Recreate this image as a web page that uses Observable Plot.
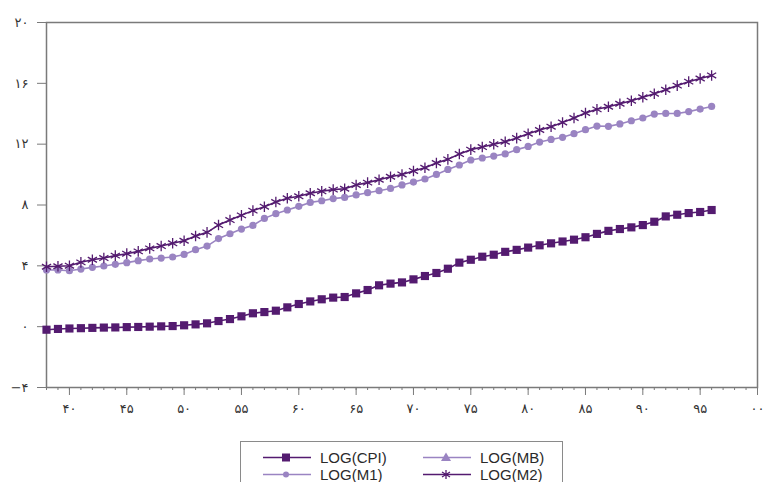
<!DOCTYPE html>
<html>
<head>
<meta charset="utf-8">
<script src="https://cdn.jsdelivr.net/npm/d3@7"></script>
<script src="https://cdn.jsdelivr.net/npm/@observablehq/plot@0.6"></script>
<style>
  body { margin: 0; background: #fff; }
  #wrap { position: relative; width: 763px; height: 482px; overflow: hidden; }
  #legend {
    position: absolute; left: 240px; top: 441px; width: 323px; height: 60px;
    border: 1px solid #8a8a8a; box-sizing: border-box;
    font-family: "Liberation Sans", Arial, sans-serif; font-size: 15px; color: #2a2a2a;
  }
  .item { position: absolute; display: flex; align-items: center; height: 17px; }
  .item svg { margin-right: 8px; }
</style>
</head>
<body>
<div id="wrap">
  <div id="chart"></div>
  <div id="legend"></div>
</div>
<script>
const years = [38,39,40,41,42,43,44,45,46,47,48,49,50,51,52,53,54,55,56,57,58,59,60,61,62,63,64,65,66,67,68,69,70,71,72,73,74,75,76,77,78,79,80,81,82,83,84,85,86,87,88,89,90,91,92,93,94,95,96];
const logCPI = [-0.2,-0.15,-0.12,-0.1,-0.08,-0.06,-0.05,-0.03,-0.02,0.0,0.02,0.04,0.09,0.15,0.22,0.37,0.5,0.68,0.88,0.96,1.05,1.27,1.49,1.66,1.8,1.91,1.95,2.19,2.41,2.72,2.83,2.91,3.11,3.33,3.53,3.81,4.21,4.4,4.6,4.73,4.92,5.05,5.2,5.35,5.48,5.6,5.72,5.88,6.1,6.3,6.42,6.53,6.68,6.9,7.25,7.36,7.47,7.54,7.67];
const logM1 = [3.73,3.73,3.68,3.79,3.9,3.99,4.1,4.21,4.34,4.45,4.51,4.58,4.75,5.06,5.3,5.79,6.11,6.42,6.66,7.12,7.43,7.67,7.91,8.17,8.28,8.42,8.5,8.66,8.81,8.94,9.09,9.32,9.51,9.71,10.01,10.34,10.63,10.96,11.09,11.22,11.36,11.64,11.85,12.14,12.31,12.45,12.69,12.95,13.19,13.17,13.33,13.54,13.72,13.98,14.02,14.02,14.14,14.31,14.48];
const logM2 = [3.94,3.97,4.01,4.23,4.4,4.51,4.67,4.8,4.95,5.15,5.3,5.48,5.65,5.96,6.2,6.68,7.01,7.32,7.63,7.89,8.2,8.44,8.57,8.77,8.9,9.01,9.07,9.32,9.47,9.66,9.86,10.01,10.24,10.45,10.76,11.0,11.35,11.64,11.81,11.99,12.16,12.4,12.69,12.93,13.15,13.43,13.72,14.05,14.29,14.46,14.66,14.86,15.08,15.32,15.58,15.85,16.11,16.32,16.52];
const xMajorTicks = [40,45,50,55,60,65,70,75,80,85,90,95,100];
const xMinorTicks = [38,39,40,41,42,43,44,45,46,47,48,49,50,51,52,53,54,55,56,57,58,59,60,61,62,63,64,65,66,67,68,69,70,71,72,73,74,75,76,77,78,79,80,81,82,83,84,85,86,87,88,89,90,91,92,93,94,95,96,97,98,99,100];
const yTicks = [-4,0,4,8,12,16,20];
const seriesNames = ["LOG(CPI)","LOG(MB)","LOG(M1)","LOG(M2)"];

const dark = "#541b70";
const light = "#9a84c2";

const faDigits = "۰۱۲۳۴۵۶۷۸۹";
const fa = n => String(n).replace(/\d/g, d => faDigits[+d]);
const fmtX = v => fa(String(v % 100).padStart(2, "0"));
const fmtY = v => v < 0 ? "\u2212" + fa(-v) : fa(v);

const rows = k => years.map((yr, i) => ({year: yr, v: k[i]}));
const cpi = rows(logCPI), m1 = rows(logM1), m2 = rows(logM2);

const chart = Plot.plot({
  width: 763, height: 430,
  marginLeft: 46, marginRight: 6, marginTop: 22, marginBottom: 43,
  style: {fontFamily: "DejaVu Sans", fontSize: "12px", color: "#333"},
  x: {domain: [38, 100]},
  y: {domain: [-4, 20]},
  marks: [
    Plot.frame({stroke: "#7a7a7a", strokeWidth: 1.5}),
    Plot.axisX({ticks: xMinorTicks, tickSize: 3, tickFormat: () => "", stroke: "#7a7a7a", label: null}),
    Plot.axisX({ticks: xMajorTicks, tickSize: 8, tickPadding: 8, tickFormat: fmtX, stroke: "#7a7a7a", label: null, fontSize: 13}),
    Plot.axisY({ticks: yTicks, tickSize: 9, tickPadding: 9, tickFormat: fmtY, stroke: "#7a7a7a", label: null, fontSize: 13}),
    Plot.line(m1, {x: "year", y: "v", stroke: light, strokeWidth: 1.6}),
    Plot.dot(m1, {x: "year", y: "v", fill: light, r: 3.6, symbol: "circle"}),
    Plot.line(m2, {x: "year", y: "v", stroke: dark, strokeWidth: 1.6}),
    Plot.dot(m2, {x: "year", y: "v", stroke: dark, r: 5, symbol: "asterisk", strokeWidth: 1.3}),
    Plot.line(cpi, {x: "year", y: "v", stroke: dark, strokeWidth: 1.6}),
    Plot.dot(cpi, {x: "year", y: "v", fill: dark, r: 4.6, symbol: "square"})
  ]
});
document.getElementById("chart").appendChild(chart);

// Legend
const legend = document.getElementById("legend");
const items = [
  {name: seriesNames[0], color: dark, shape: "square", left: 21, top: 7},
  {name: seriesNames[1], color: light, shape: "triangle", left: 181, top: 7},
  {name: seriesNames[2], color: light, shape: "circle", left: 21, top: 24},
  {name: seriesNames[3], color: dark, shape: "asterisk", left: 181, top: 24}
];
for (const it of items) {
  const div = document.createElement("div");
  div.className = "item";
  div.style.left = it.left + "px";
  div.style.top = it.top + "px";
  let marker = "";
  if (it.shape === "square") marker = `<rect x="20" y="4.5" width="8" height="8" fill="${it.color}"/>`;
  if (it.shape === "circle") marker = `<circle cx="24" cy="8.5" r="3" fill="${it.color}"/>`;
  if (it.shape === "triangle") marker = `<path d="M24,3.5 L29,12 L19,12 Z" fill="${it.color}"/>`;
  if (it.shape === "asterisk") marker = `<path d="M24,4 V13 M20,6 L28,11 M20,11 L28,6" stroke="${it.color}" stroke-width="1.3"/>`;
  div.innerHTML = `<svg width="50" height="17"><line x1="1" x2="49" y1="8.5" y2="8.5" stroke="${it.color}" stroke-width="1.6"/>${marker}</svg><span>${it.name}</span>`;
  legend.appendChild(div);
}
</script>
</body>
</html>
